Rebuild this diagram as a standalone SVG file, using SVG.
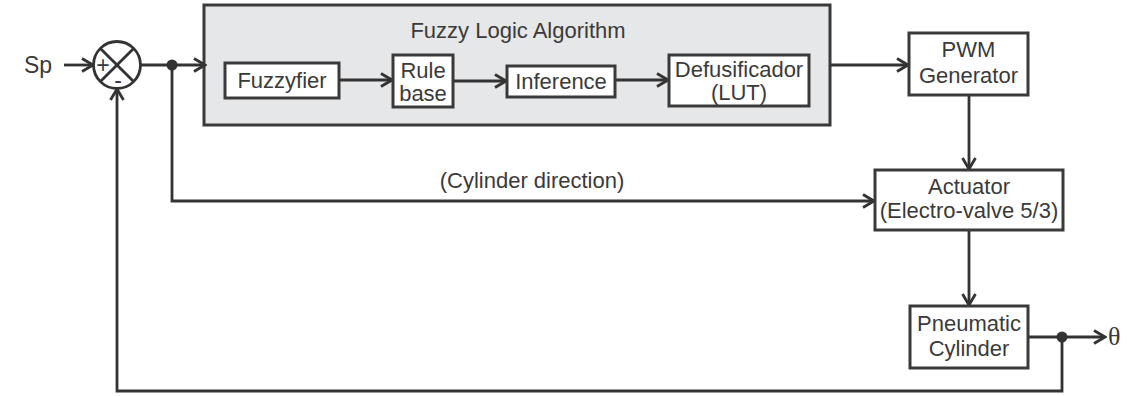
<svg xmlns="http://www.w3.org/2000/svg" width="1127" height="396" viewBox="0 0 1127 396">
<defs>
<marker id="arr" markerUnits="userSpaceOnUse" markerWidth="16" markerHeight="16" viewBox="0 0 16 16" refX="14" refY="8" orient="auto">
<path d="M3,1.5 L14,8 L3,14.5" fill="none" stroke="#333" stroke-width="2.8"/>
</marker>
<style>
.box{fill:#fff;stroke:#3a3a3a;stroke-width:3}
.ln{fill:none;stroke:#333;stroke-width:2.8}
.t{font-family:"Liberation Sans",Arial,sans-serif;font-size:22px;fill:#3a3a3a;text-anchor:middle}
</style>
</defs>
<rect width="1127" height="396" fill="#fff"/>
<g id="fla">
<rect x="204" y="5" width="626" height="120" fill="#e6e7e8" stroke="#3a3a3a" stroke-width="3"/>
<text class="t" x="518" y="38">Fuzzy Logic Algorithm</text>
</g>
<g id="connectors">
<line class="ln" x1="64" y1="65" x2="93" y2="65" marker-end="url(#arr)"/>
<line class="ln" x1="141" y1="65" x2="205" y2="65" marker-end="url(#arr)"/>
<polyline class="ln" points="172,65 172,201 874,201" marker-end="url(#arr)"/>
<polyline class="ln" points="1062,337 1062,391 117,391 117,89" marker-end="url(#arr)"/>
<line class="ln" x1="339" y1="80" x2="392" y2="80" marker-end="url(#arr)"/>
<line class="ln" x1="453" y1="81" x2="506" y2="81" marker-end="url(#arr)"/>
<line class="ln" x1="615" y1="80" x2="668" y2="80" marker-end="url(#arr)"/>
<line class="ln" x1="830" y1="65" x2="908" y2="65" marker-end="url(#arr)"/>
<line class="ln" x1="969" y1="95" x2="969" y2="169" marker-end="url(#arr)"/>
<line class="ln" x1="969" y1="230" x2="969" y2="305" marker-end="url(#arr)"/>
<line class="ln" x1="1028" y1="337" x2="1105" y2="337" marker-end="url(#arr)"/>
<circle cx="172" cy="65" r="5.5" fill="#333"/>
<circle cx="1062" cy="337" r="5.5" fill="#333"/>
<text class="t" x="532" y="188">(Cylinder direction)</text>
</g>
<g id="sp"><text class="t" x="24" y="73" style="font-size:23px;text-anchor:start">Sp</text></g>
<g id="sum">
<circle cx="117" cy="65" r="23.5" fill="#fff" stroke="#333" stroke-width="2.8"/>
<line class="ln" x1="100.4" y1="48.4" x2="133.6" y2="81.6"/>
<line class="ln" x1="133.6" y1="48.4" x2="100.4" y2="81.6"/>
<text class="t" x="103" y="73" style="font-size:23px">+</text>
<text class="t" x="118" y="88" style="font-size:23px">-</text>
</g>
<g id="fuzzyfier"><rect class="box" x="225" y="63" width="114" height="35"/><text class="t" x="282" y="88">Fuzzyfier</text></g>
<g id="rulebase"><rect class="box" x="393" y="55" width="60" height="52"/><text class="t" x="423" y="78">Rule</text><text class="t" x="423" y="101">base</text></g>
<g id="inference"><rect class="box" x="507" y="66" width="108" height="31"/><text class="t" x="561" y="89">Inference</text></g>
<g id="defus"><rect class="box" x="669" y="55" width="140" height="51"/><text class="t" x="739" y="77">Defusificador</text><text class="t" x="739" y="100">(LUT)</text></g>
<g id="pwm"><rect class="box" x="909" y="33" width="119" height="62"/><text class="t" x="968.5" y="57">PWM</text><text class="t" x="968.5" y="83">Generator</text></g>
<g id="actuator"><rect class="box" x="875" y="170" width="188" height="60"/><text class="t" x="969" y="194">Actuator</text><text class="t" x="969" y="218">(Electro-valve 5/3)</text></g>
<g id="cylinder"><rect class="box" x="910" y="306" width="118" height="62"/><text class="t" x="969" y="331">Pneumatic</text><text class="t" x="969" y="356">Cylinder</text></g>
<g id="theta"><text x="1108" y="345" style="font-family:'Liberation Serif','Times New Roman',serif;font-size:26px;fill:#3a3a3a">θ</text></g>
</svg>
